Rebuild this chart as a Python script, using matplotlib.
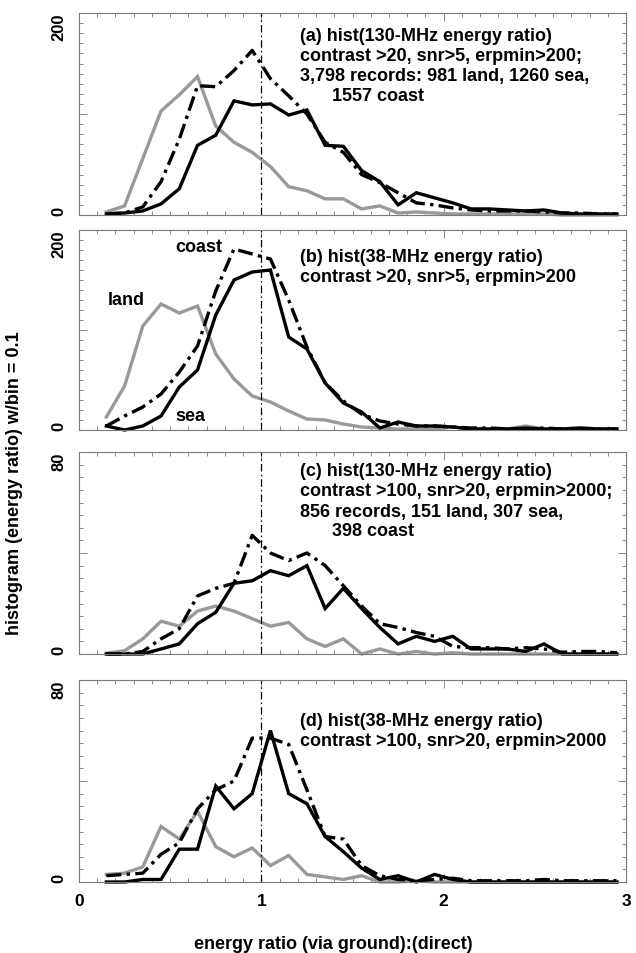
import numpy as np
import matplotlib
matplotlib.use("Agg")
import matplotlib.pyplot as plt
from matplotlib.ticker import MultipleLocator, FixedLocator

plt.rcParams['font.family'] = ['Liberation Sans', 'DejaVu Sans']
plt.rcParams['font.weight'] = 'bold'

# bin centres (bin width 0.1)
ratio_bins = [0.15, 0.25, 0.35, 0.45, 0.55, 0.65, 0.75, 0.85, 0.95, 1.05,
              1.15, 1.25, 1.35, 1.45, 1.55, 1.65, 1.75, 1.85, 1.95, 2.05,
              2.15, 2.25, 2.35, 2.45, 2.55, 2.65, 2.75, 2.85, 2.95]

# (a) 130 MHz, contrast>20
a_land = [3, 9, 56, 103, 119, 137, 88, 72, 62, 48, 28, 24, 16, 16, 6, 9, 2, 3, 2, 1,
          1, 1, 1, 1, 1, 0, 0, 0, 0]
a_sea = [1, 2, 4, 11, 26, 69, 79, 113, 109, 110, 99, 104, 69, 68, 44, 33, 10, 22, 17, 12,
         6, 6, 5, 4, 5, 2, 1, 1, 1]
a_coast = [1, 2, 8, 33, 75, 128, 127, 143, 163, 135, 118, 100, 72, 62, 40, 32, 22, 12, 10, 7,
           5, 4, 4, 4, 3, 2, 2, 1, 1]

# (b) 38 MHz, contrast>20
b_land = [13, 44, 104, 126, 117, 124, 76, 51, 34, 28, 19, 11, 10, 6, 3, 2, 1, 1, 1, 3,
          1, 1, 1, 4, 1, 1, 2, 1, 1]
b_sea = [4, 0, 4, 14, 43, 60, 115, 150, 158, 160, 93, 81, 47, 27, 18, 2, 8, 4, 4, 3,
         1, 1, 1, 2, 1, 1, 2, 1, 1]
b_coast = [4, 14, 23, 36, 58, 84, 139, 181, 176, 171, 130, 83, 47, 29, 16, 9, 6, 4, 4, 3,
           2, 2, 1, 1, 2, 1, 1, 1, 1]

# (c) 130 MHz, contrast>100
c_land = [0.3, 1.3, 6, 13, 11, 17, 19, 17, 14, 11, 12.5, 6, 3, 6, 0, 2, 0, 1, 0, 0.5,
          0, 0, 0, 0, 0, 0, 0, 0, 0]
c_sea = [0, 0, 0, 2, 4, 12, 16.5, 28, 29, 33, 31, 35, 18, 26, 18, 10.5, 4, 7, 5, 7,
         2, 2, 2, 1, 4, 0, 0, 0, 0]
c_coast = [0, 0, 1, 6, 10, 23, 26, 28, 47, 40, 37, 40, 35, 27, 19, 12, 10.5, 8.5, 7, 3,
           2.5, 2.5, 2, 2.5, 2, 0.7, 1, 1, 0.5]

# (d) 38 MHz, contrast>100
d_land = [3, 3.5, 6, 22, 17, 28, 14, 10, 13.5, 6.5, 10.5, 3, 2, 1, 2.5, 0, 0, 0.5, 0, 0,
          0, 0, 0, 0, 0, 0, 0, 0, 0]
d_sea = [0, 0, 1, 1, 13, 13, 38, 29, 35, 60, 35, 31, 18, 12, 5.5, 1, 2.5, 0, 3, 1,
         0, 0, 0, 0, 0, 0, 0, 0, 0]
d_coast = [2.5, 3, 3.5, 11, 15.5, 29, 36.5, 40, 57, 57, 54.5, 36.5, 18, 17, 6.5, 2.5, 1, 0.5, 1, 1.5,
           0.5, 0.5, 0.5, 0.5, 1, 0.5, 0.5, 0.5, 0.5]

panel_ymax = [200, 200, 80, 80]
panel_text = [
    ["(a) hist(130-MHz energy ratio)", "contrast >20, snr>5, erpmin>200;",
     "3,798 records: 981 land, 1260 sea,", "1557 coast"],
    ["(b) hist(38-MHz energy ratio)", "contrast >20, snr>5, erpmin>200"],
    ["(c) hist(130-MHz energy ratio)", "contrast >100, snr>20, erpmin>2000;",
     "856 records, 151 land, 307 sea,", "398 coast"],
    ["(d) hist(38-MHz energy ratio)", "contrast >100, snr>20, erpmin>2000"],
]
panel_data = [(a_land, a_sea, a_coast), (b_land, b_sea, b_coast),
              (c_land, c_sea, c_coast), (d_land, d_sea, d_coast)]

W, H = 636, 954
fig = plt.figure(figsize=(W / 100, H / 100), dpi=100)

# axes boxes in pixels (top, bottom)
boxes = [(14, 216), (231, 431), (453, 655), (681, 883)]
first_line = [37, 258, 472, 722]
x0, x1 = 79, 626
FS = 13

grey = '#999999'
frame = '#7a7a7a'
lw = 2.4
dashdot = (0, (4.5, 1.6, 1.0, 1.6))

for k, (top, bot) in enumerate(boxes):
    ax = fig.add_axes([x0 / W, 1 - bot / H, (x1 - x0) / W, (bot - top) / H])
    land, sea, coast = panel_data[k]
    ymax = panel_ymax[k]
    ax.plot(ratio_bins, land, color=grey, lw=lw, clip_on=False, solid_joinstyle='miter')
    ax.plot(ratio_bins, coast, color='black', lw=lw, linestyle=dashdot, clip_on=False)
    ax.plot(ratio_bins, sea, color='black', lw=lw, clip_on=False, solid_joinstyle='miter')
    ax.axvline(1.0, color='black', lw=0.9, linestyle=(0, (6, 2.5, 1.2, 2.5)))
    ax.set_xlim(0, 3)
    ax.set_ylim(0, ymax)

    for s in ax.spines.values():
        s.set_color(frame)
        s.set_linewidth(0.8)

    ax.xaxis.set_major_locator(FixedLocator([0, 1, 2, 3]))
    ax.xaxis.set_minor_locator(MultipleLocator(0.1))
    if ymax == 200:
        ax.yaxis.set_major_locator(FixedLocator([0, 100, 200]))
        ax.yaxis.set_minor_locator(MultipleLocator(10))
    else:
        ax.yaxis.set_major_locator(FixedLocator([0, 40, 80]))
        ax.yaxis.set_minor_locator(MultipleLocator(5))
    ax.tick_params(which='both', direction='in', top=True, right=True,
                   color=frame, width=0.6)
    ax.tick_params(which='major', length=6)
    ax.tick_params(which='minor', length=3)
    ax.tick_params(axis='y', pad=9, labelsize=12)
    ax.tick_params(axis='x', pad=8, labelsize=12.5)

    ax.set_yticklabels(['0', '', str(ymax)], rotation=90, fontweight='bold')
    tl = ax.get_yticklabels()
    tl[0].set_va('bottom')
    tl[2].set_va('top')
    if k == 3:
        ax.set_xticklabels(['0', '1', '2', '3'], fontweight='bold')
    else:
        ax.set_xticklabels([])

    # panel annotation
    for j, line in enumerate(panel_text[k]):
        ypix = first_line[k] + j * 20
        xpix = 332 if j == 3 else 300
        ax.text((xpix - x0) / (x1 - x0), (bot - ypix) / (bot - top), line,
                transform=ax.transAxes, fontsize=FS, fontweight='bold',
                va='center', ha='left')

    if k == 1:
        for lab, (px, py) in [("coast", (199, 248)), ("land", (126, 301)), ("sea", (190, 417))]:
            ax.text((px - x0) / (x1 - x0), (bot - py) / (bot - top), lab,
                    transform=ax.transAxes, fontsize=FS, fontweight='bold',
                    va='center', ha='center')

fig.text(15 / W, 1 - 483 / H, "histogram (energy ratio) w/bin = 0.1", rotation=90,
         fontsize=13, fontweight='bold', ha='center', va='center')
fig.text(333 / W, 1 - 945 / H, "energy ratio (via ground):(direct)",
         fontsize=13, fontweight='bold', ha='center', va='center')

fig.savefig("out.png", dpi=100)
